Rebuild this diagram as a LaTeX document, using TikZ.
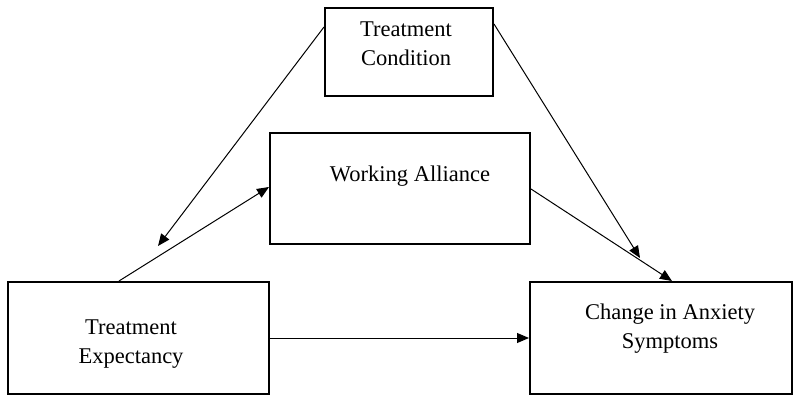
\documentclass[tikz,border=0pt]{standalone}
\usepackage{fontspec}
\setmainfont{Liberation Serif}
\usetikzlibrary{arrows.meta,calc}
\tikzset{
  boxnode/.style={draw=black, line width=2pt, rectangle, inner sep=0pt, fill=white},
  labeltext/.style={inner sep=0pt, align=center, font=\fontsize{22.5}{29}\selectfont},
  conn/.style={line width=1pt, -{Triangle[length=12pt,width=10pt]}}
}
\begin{document}
\begin{tikzpicture}[x=1pt,y=-1pt]
\useasboundingbox[fill=white] (0,0) rectangle (800,403);
% boxes
\node[boxnode, minimum width=168pt, minimum height=88pt] (tc) at (409,52) {};
\node[boxnode, minimum width=260pt, minimum height=111pt] (wa) at (400,188.5) {};
\node[boxnode, minimum width=261pt, minimum height=112pt] (te) at (138.5,338) {};
\node[boxnode, minimum width=262pt, minimum height=112pt] (ca) at (661,338) {};
% texts
\node[labeltext] (tctext) at (406,44) {Treatment\\Condition};
\node[labeltext, anchor=base] (watext) at (410,182) {Working Alliance};
\node[labeltext] (tetext) at (131,344) {Treatment\\Expectancy};
\node[labeltext] (catext) at (670,329) {Change in Anxiety\\Symptoms};
% free ends
\coordinate (e1) at (158,246);
\coordinate (e3) at (640,258);
% connectors
\draw[conn] ($(tc.north west)+(0,20)$) -- (e1);
\draw[conn] ($(te.north west)+(112,0)$) -- ($(wa.north west)+(0,55)$);
\draw[conn] ($(tc.north east)+(0,17)$) -- (e3);
\draw[conn] ($(wa.north east)+(0,57)$) -- ($(ca.north west)+(143,0)$);
\draw[conn] (te.east) -- (ca.west);
\end{tikzpicture}
\end{document}
